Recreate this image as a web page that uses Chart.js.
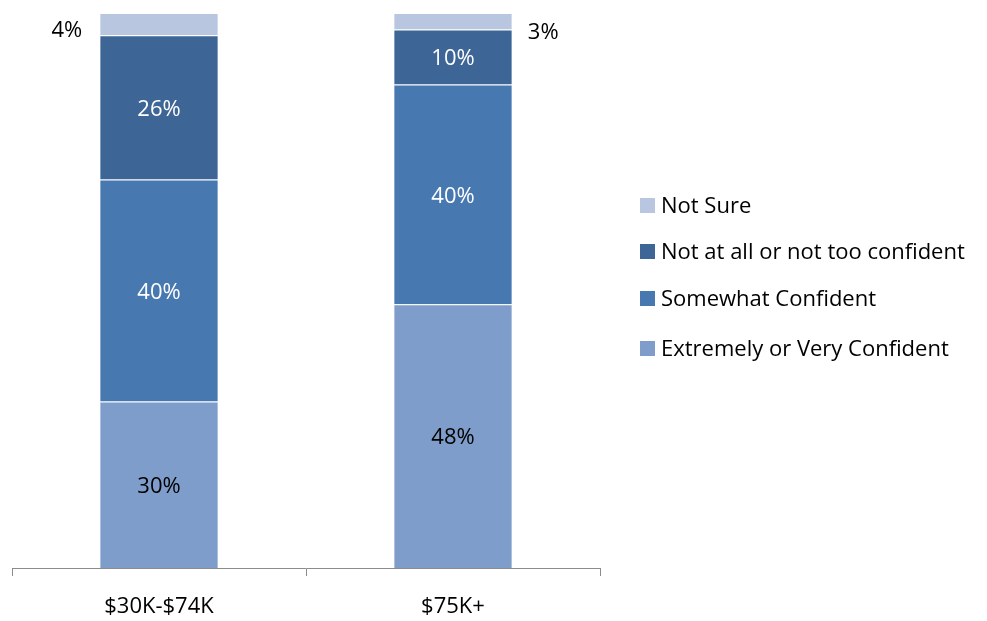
<!DOCTYPE html>
<html>
<head>
<meta charset="utf-8">
<script src="https://cdn.jsdelivr.net/npm/chart.js@4/dist/chart.umd.min.js"></script>
<style>
  html, body { margin: 0; padding: 0; background: #fff; }
  #wrap { width: 987px; height: 621px; }
</style>
</head>
<body>
<div id="wrap"><canvas id="confChart"></canvas></div>
<script>
// data
const categories = ["$30K-$74K", "$75K+"];
const extremelyVery = [30, 48];
const somewhat = [40, 40];
const notConfident = [26, 10];
const notSure = [4, 3];

const seriesNames = [
  "Extremely or Very Confident",
  "Somewhat Confident",
  "Not at all or not too confident",
  "Not Sure",
];
const seriesColors = ["#7f9dca", "#4878b0", "#3d6696", "#b8c6e0"];
const labelColors = ["#000000", "#ffffff", "#ffffff", "#000000"];

const FONT = "'Open Sans', 'Noto Sans', sans-serif";
const FONT_SIZE = 22;

// 100% stacked, like the original
const allSeries = [extremelyVery, somewhat, notConfident, notSure];
const totals = categories.map((c, i) =>
  allSeries.reduce((s, arr) => s + arr[i], 0)
);

const datasets = allSeries.map((arr, k) => ({
  label: seriesNames[k],
  data: arr.map((v, i) => (v / totals[i]) * 100),
  raw: arr,
  backgroundColor: seriesColors[k],
  borderColor: "rgba(255,255,255,0.18)",
  borderWidth: { top: 1 },
  borderSkipped: false,
  barPercentage: 0.4,
  categoryPercentage: 1,
}));

// value labels on the segments
const segmentLabels = {
  id: "segmentLabels",
  afterDatasetsDraw(chart) {
    const ctx = chart.ctx;
    ctx.save();
    ctx.font = FONT_SIZE + "px " + FONT;
    ctx.textBaseline = "middle";
    chart.data.datasets.forEach((ds, k) => {
      const meta = chart.getDatasetMeta(k);
      meta.data.forEach((bar, i) => {
        const text = ds.raw[i] + "%";
        const midY = (bar.y + bar.base) / 2 + 2;
        if (k === 3) {
          // the small top segment gets its label outside the bar
          ctx.fillStyle = "#000";
          if (i === 0) {
            ctx.textAlign = "right";
            ctx.fillText(text, bar.x - bar.width / 2 - 18, midY + 5);
          } else {
            ctx.textAlign = "left";
            ctx.fillText(text, bar.x + bar.width / 2 + 16, midY + 9);
          }
        } else {
          ctx.fillStyle = labelColors[k];
          ctx.textAlign = "center";
          ctx.fillText(text, bar.x, midY);
        }
      });
    });
    ctx.restore();
  },
};

// legend on the right, top series first
const sideLegend = {
  id: "sideLegend",
  afterDraw(chart) {
    const ctx = chart.ctx;
    ctx.save();
    ctx.font = FONT_SIZE + "px " + FONT;
    ctx.textBaseline = "middle";
    ctx.textAlign = "left";
    const x = 640;
    const rowYs = [205, 251, 298, 348];
    const order = [3, 2, 1, 0];
    order.forEach((k, r) => {
      const y = rowYs[r];
      ctx.fillStyle = seriesColors[k];
      ctx.fillRect(x, y - 7, 15, 15);
      ctx.fillStyle = "#000";
      ctx.fillText(seriesNames[k], x + 21, y + 2);
    });
    ctx.restore();
  },
};

new Chart(document.getElementById("confChart"), {
  type: "bar",
  data: { labels: categories, datasets },
  options: {
    responsive: true,
    maintainAspectRatio: false,
    animation: false,
    layout: { padding: { left: 12, right: 387, top: 13, bottom: 0 } },
    scales: {
      x: {
        stacked: true,
        afterFit(scale) {
          scale.height = 53;
        },
        grid: {
          display: true,
          offset: true,
          drawOnChartArea: false,
          drawTicks: true,
          tickLength: 8,
          color: "#8c8c8c",
        },
        border: { display: true, color: "#8c8c8c", width: 1 },
        ticks: {
          color: "#000",
          padding: 18,
          font: { family: FONT, size: FONT_SIZE },
        },
      },
      y: {
        stacked: true,
        display: false,
        min: 0,
        max: 100,
      },
    },
    plugins: {
      legend: { display: false },
      tooltip: { enabled: false },
    },
  },
  plugins: [segmentLabels, sideLegend],
});
</script>
</body>
</html>
